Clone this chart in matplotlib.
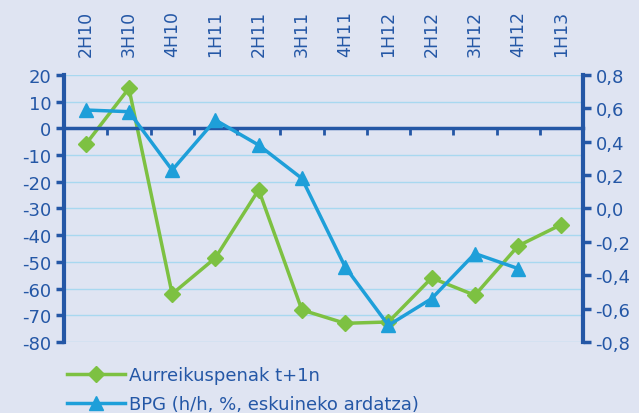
import matplotlib.pyplot as plt
import numpy as np

plt.rcParams['font.family'] = ['DejaVu Sans']
plt.rcParams['axes.unicode_minus'] = False

# Data
periods = ['2H10', '3H10', '4H10', '1H11', '2H11', '3H11',
           '4H11', '1H12', '2H12', '3H12', '4H12', '1H13']
forecast = [-6, 15, -62, -48.5, -23, -68, -73, -72.5, -56, -62.5, -44, -36]
gdp = [0.59, 0.58, 0.23, 0.53, 0.38, 0.18, -0.35, -0.70, -0.54, -0.27, -0.36]

forecast_label = 'Aurreikuspenak t+1n'
gdp_label = 'BPG (h/h, %, eskuineko ardatza)'

bg = '#dfe4f2'
dark = '#2457a6'
green = '#7dc142'
blue = '#1e9fd9'
grid = '#a8d8f0'

fig = plt.figure(figsize=(6.39, 4.14), dpi=100, facecolor=bg)
ax = fig.add_axes([0.1002, 0.1715, 0.8122, 0.645])
ax.set_facecolor(bg)

x = np.arange(len(periods))
ax.set_xlim(-0.5, len(periods) - 0.5)
ax.set_ylim(-80, 20)
ax.set_yticks(np.arange(-80, 21, 10))
ax.yaxis.grid(True, color=grid, linewidth=1)
ax.set_axisbelow(True)

# category labels on top, boundary ticks on the zero line
ax.set_xticks(x)
ax.set_xticklabels(periods)
ax.set_xticks(np.arange(0.5, len(periods) - 1, 1), minor=True)
ax.tick_params(axis='x', which='major', bottom=False, top=False,
               labelbottom=False, labeltop=True, pad=10, labelrotation=90,
               labelsize=12.5, labelcolor=dark)
ax.tick_params(axis='x', which='minor', bottom=True, top=False,
               direction='out', length=5, width=2, color=dark)
ax.tick_params(axis='y', direction='out', length=6, width=2.5, color=dark,
               labelsize=13, labelcolor=dark, pad=3)

ax.spines['bottom'].set_position(('data', 0))
ax.spines['bottom'].set_color(dark)
ax.spines['bottom'].set_linewidth(2.5)
ax.spines['left'].set_color(dark)
ax.spines['left'].set_linewidth(3)
ax.spines['top'].set_visible(False)
ax.spines['right'].set_visible(False)

l1, = ax.plot(x, forecast, color=green, linewidth=2.5, marker='D',
              markersize=8, label=forecast_label)

ax2 = ax.twinx()
ax2.set_ylim(-0.8, 0.8)
ax2.set_yticks(np.arange(-0.8, 0.81, 0.2))
ax2.set_yticklabels([f'{v:.1f}'.replace('.', ',').replace('-0,0', '0,0')
                     for v in np.arange(-0.8, 0.81, 0.2)])
ax2.tick_params(axis='y', direction='out', length=6, width=2.5, color=dark,
                labelsize=13, labelcolor=dark, pad=3)
for side in ['left', 'top', 'bottom']:
    ax2.spines[side].set_visible(False)
ax2.spines['right'].set_color(dark)
ax2.spines['right'].set_linewidth(3)

l2, = ax2.plot(x[:len(gdp)], gdp, color=blue, linewidth=2.5, marker='^',
               markersize=10, label=gdp_label)

fig.legend(handles=[l1, l2], loc='upper left', bbox_to_anchor=(0.105, 0.113),
           frameon=False, fontsize=13, labelcolor=dark, handlelength=3.2,
           handletextpad=0.25, labelspacing=0.6, borderpad=0,
           borderaxespad=0)

fig.savefig('out.png', dpi=100, facecolor=bg)
